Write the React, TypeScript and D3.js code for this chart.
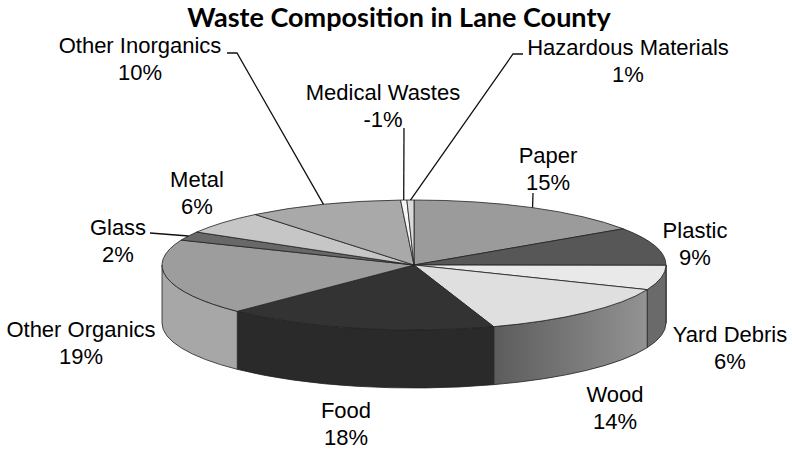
import React from 'react';
import * as d3 from 'd3';

// waste share by category, clockwise from 12 o'clock
const categories = [
  'Paper',
  'Plastic',
  'Yard Debris',
  'Wood',
  'Food',
  'Other Organics',
  'Glass',
  'Metal',
  'Other Inorganics',
  'Medical Wastes',
  'Hazardous Materials',
];
const shares = [15.6, 9.5, 6.1, 13.7, 17.5, 18.9, 2.2, 5.7, 10.0, 0.4, 0.45];
const shareLabels = ['15%', '9%', '6%', '14%', '18%', '19%', '2%', '6%', '10%', '-1%', '1%'];

// greys for the top faces and the walls
const topColors = [
  '#9b9b9b', '#575757', '#e9e9e9', '#dfdfdf', '#333333', '#9d9d9d',
  '#686868', '#c6c6c6', '#a9a9a9', '#f5f5f5', '#dadada',
];
const sideColors = [
  '#7a7a7a', '#4a4a4a', '#6a6a6a', 'url(#woodSide)', '#2a2a2a', '#a7a7a7',
  '#555555', '#a0a0a0', '#888888', '#cccccc', '#bbbbbb',
];

const W = 792;
const H = 451;
const cx = 414;
const cy = 265;
const rx = 252;
const ry = 65;
const depth = 58;

// label anchor (centre x, baseline of the name line) and leader start points
const labelLayout: Record<string, { x: number; y: number; leader?: [number, number][] }> = {
  Paper: { x: 548, y: 163, leader: [[533, 193]] },
  Plastic: { x: 695, y: 238 },
  'Yard Debris': { x: 730, y: 342 },
  Wood: { x: 615, y: 402 },
  Food: { x: 346, y: 418 },
  'Other Organics': { x: 81, y: 337 },
  Glass: { x: 118, y: 235, leader: [[150, 233]] },
  Metal: { x: 197, y: 187 },
  'Other Inorganics': { x: 140, y: 53, leader: [[227, 53], [237, 53]] },
  'Medical Wastes': { x: 383, y: 100, leader: [[404, 128]] },
  'Hazardous Materials': { x: 628, y: 55, leader: [[523, 54], [513, 54]] },
};

const pt = (a: number, dy = 0): [number, number] => [cx + rx * Math.sin(a), cy - ry * Math.cos(a) + dy];

const App: React.FC = () => {
  const data = categories.map((c, i) => ({ name: c, value: shares[i], idx: i }));
  const arcs = d3.pie<typeof data[number]>()
    .sort(null)
    .value(d => d.value)
    .startAngle(0)
    .endAngle(2 * Math.PI)(data);

  const arcGen = d3.arc<d3.PieArcDatum<typeof data[number]>>()
    .innerRadius(0)
    .outerRadius(rx);

  // front walls, only the part of each slice between 3 and 9 o'clock
  const walls = arcs.map(a => {
    const a0 = Math.max(a.startAngle, Math.PI / 2);
    const a1 = Math.min(a.endAngle, (3 * Math.PI) / 2);
    if (a1 <= a0) return null;
    const p0 = pt(a0);
    const p1 = pt(a1);
    const q0 = pt(a0, depth);
    const q1 = pt(a1, depth);
    const d = `M${p0[0]},${p0[1]} A${rx},${ry} 0 0 1 ${p1[0]},${p1[1]} L${q1[0]},${q1[1]} A${rx},${ry} 0 0 0 ${q0[0]},${q0[1]} Z`;
    return { d, i: a.data.idx, x0: p0[0], x1: p1[0] };
  });
  const woodWall = walls[3];

  const line = d3.line();

  return (
    <svg width={W} height={H} style={{ position: 'absolute', left: 0, top: 0, background: '#fff' }}>
      <defs>
        <linearGradient id="woodSide" gradientUnits="userSpaceOnUse"
          x1={woodWall ? woodWall.x0 : 0} x2={woodWall ? woodWall.x1 : 1} y1={0} y2={0}>
          <stop offset="0%" stopColor="#939393" />
          <stop offset="100%" stopColor="#5c5c5c" />
        </linearGradient>
      </defs>

      <text x={399} y={27} textAnchor="middle" fontFamily="Lato, 'Open Sans', sans-serif"
        fontWeight="bold" fontSize={27} fill="#000">
        Waste Composition in Lane County
      </text>

      <g>
        {walls.map(w => w && (
          <path key={`w${w.i}`} d={w.d} fill={sideColors[w.i]} stroke="#222" strokeWidth={0.8}
            strokeLinejoin="round" />
        ))}
      </g>

      <g transform={`translate(${cx},${cy}) scale(1,${ry / rx})`}>
        {arcs.map(a => (
          <path key={`t${a.data.idx}`} d={arcGen(a) || ''} fill={topColors[a.data.idx]}
            stroke="#222" strokeWidth={0.8} vectorEffect="non-scaling-stroke" strokeLinejoin="round" />
        ))}
      </g>

      <g fill="none" stroke="#111" strokeWidth={1.3}>
        {arcs.map(a => {
          const lay = labelLayout[a.data.name];
          if (!lay.leader) return null;
          const mid = (a.startAngle + a.endAngle) / 2;
          const pts = [...lay.leader, pt(mid)] as [number, number][];
          return <path key={`l${a.data.idx}`} d={line(pts) || ''} />;
        })}
      </g>

      <g fontFamily="Liberation Sans, Arial, Helvetica, sans-serif" fontSize={22} fill="#000" textAnchor="middle">
        {arcs.map(a => {
          const lay = labelLayout[a.data.name];
          return (
            <g key={`t${a.data.idx}`}>
              <text x={lay.x} y={lay.y}>{a.data.name}</text>
              <text x={lay.x} y={lay.y + 27}>{shareLabels[a.data.idx]}</text>
            </g>
          );
        })}
      </g>
    </svg>
  );
};

export default App;
